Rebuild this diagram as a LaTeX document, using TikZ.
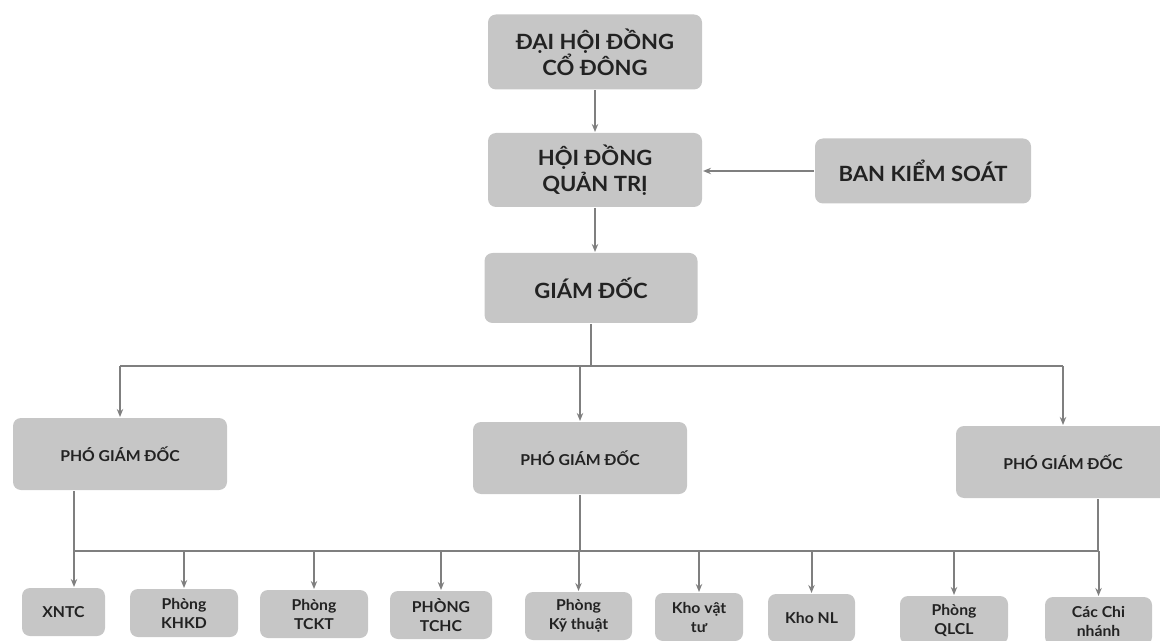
\documentclass[tikz,border=0pt]{standalone}
\usepackage{fontspec}
\setmainfont{Lato}[FakeStretch=1.05]
\usetikzlibrary{arrows.meta}
\definecolor{boxgray}{HTML}{C6C6C6}
\definecolor{wiregray}{HTML}{7F7F7F}
\definecolor{inkgray}{HTML}{222222}
\tikzstyle{every picture}+=[x=0.5pt,y=-0.5pt]
\tikzstyle{every picture}+=[>={Stealth[length=4pt,width=3.2pt]}]
\tikzstyle{every picture}+=[line width=1pt]
\tikzstyle{every picture}+=[join=round]
\tikzstyle{orgbox}=[fill=boxgray,rounded corners=4pt,text=inkgray,align=center,inner sep=0pt]
\tikzstyle{bigbox}=[orgbox,font=\fontsize{10.5}{13}\bfseries\selectfont]
\tikzstyle{pgdbox}=[orgbox,font=\fontsize{7.5}{9.5}\bfseries\selectfont,minimum width=107pt,minimum height=36pt]
\tikzstyle{unitbox}=[orgbox,font=\fontsize{7.5}{9.5}\bfseries\selectfont,minimum height=24pt]
\tikzstyle{wire}=[draw=wiregray]

\begin{document}
\begin{tikzpicture}
\useasboundingbox (0,0) rectangle (1160,641);

\node[bigbox,minimum width=107pt,minimum height=37.5pt] (dhcd) at (595,52) {ĐẠI HỘI ĐỒNG\\CỔ ĐÔNG};
\node[bigbox,minimum width=107pt,minimum height=37pt] (hdqt) at (595,170) {HỘI ĐỒNG\\QUẢN TRỊ};
\node[bigbox,minimum width=108pt,minimum height=32.5pt] (bks) at (923,171) {BAN KIỂM SOÁT};
\node[bigbox,minimum width=106.5pt,minimum height=35pt] (gd) at (591,288) {GIÁM ĐỐC};

\node[pgdbox] (pgdA) at (120,454) {PHÓ GIÁM ĐỐC};
\node[pgdbox] (pgdB) at (580,458) {PHÓ GIÁM ĐỐC};
\node[pgdbox] (pgdC) at (1063,462) {PHÓ GIÁM ĐỐC};

\node[unitbox,minimum width=41.5pt] (xntc) at (63.5,612) {XNTC};
\node[unitbox,minimum width=54pt] (khkd) at (184,613) {Phòng\\KHKD};
\node[unitbox,minimum width=54pt] (tckt) at (314,614) {Phòng\\TCKT};
\node[unitbox,minimum width=51pt] (tchc) at (441,615) {PHÒNG\\TCHC};
\node[unitbox,minimum width=53.5pt] (kythuat) at (578.5,616) {Phòng\\Kỹ thuật};
\node[unitbox,minimum width=44pt] (khovt) at (699,617) {Kho vật\\tư};
\node[unitbox,minimum width=43.5pt] (khonl) at (811.5,618) {Kho NL};
\node[unitbox,minimum width=54pt] (qlcl) at (954,620) {Phòng\\QLCL};
\node[unitbox,minimum width=53.5pt] (chinhanh) at (1098.5,621) {Các Chi\\nhánh};

\draw[wire,->] (dhcd) -- (hdqt);
\draw[wire,->] (bks.west) -- (bks.west -| hdqt.east);
\draw[wire,->] (hdqt.south) -- (hdqt.south |- gd.north);

\coordinate (busHigh) at (591,366);
\draw[wire] (gd.south) -- (gd.south |- busHigh);
\draw[wire] (pgdA.north |- busHigh) -- (pgdC.north |- busHigh);
\draw[wire,->] (pgdA.north |- busHigh) -- (pgdA.north);
\draw[wire,->] (pgdB.north |- busHigh) -- (pgdB.north);
\draw[wire,->] (pgdC.north |- busHigh) -- (pgdC.north);

\coordinate (tapA) at ([xshift=-23pt]pgdA.south);
\coordinate (tapC) at ([xshift=17.5pt]pgdC.south);
\coordinate (busLow) at (580,551);
\draw[wire] (tapA) -- (tapA |- busLow) -- (tapC |- busLow) -- (tapC);
\draw[wire] (pgdB.south) -- (pgdB.south |- busLow);
\draw[wire,->] (tapA |- busLow) -- (tapA |- xntc.north);
\draw[wire,->] (khkd.north |- busLow) -- (khkd.north);
\draw[wire,->] (tckt.north |- busLow) -- (tckt.north);
\draw[wire,->] (tchc.north |- busLow) -- (tchc.north);
\draw[wire,->] (kythuat.north |- busLow) -- (kythuat.north);
\draw[wire,->] (khovt.north |- busLow) -- (khovt.north);
\draw[wire,->] (khonl.north |- busLow) -- (khonl.north);
\draw[wire,->] (qlcl.north |- busLow) -- (qlcl.north);
\draw[wire,->] (chinhanh.north |- busLow) -- (chinhanh.north);
\end{tikzpicture}
\end{document}
